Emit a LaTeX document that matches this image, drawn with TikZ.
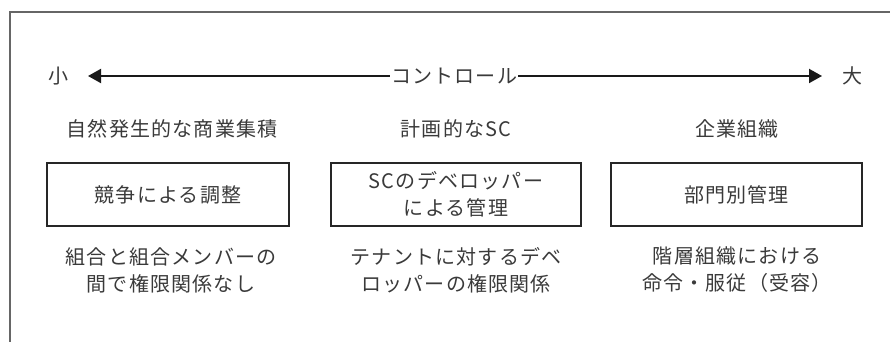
\documentclass[tikz,border=0pt]{standalone}
\usepackage{fontspec}
\setmainfont{Noto Sans CJK JP}[LetterSpace=6]
\usetikzlibrary{arrows.meta}
\definecolor{txt}{HTML}{3A3A3A}
\definecolor{frame}{HTML}{666666}
\tikzset{
  lbl/.style={text=txt, font=\fontsize{20}{27}\selectfont, inner sep=0pt, align=center},
  boxnode/.style={draw=black!85, line width=1.2pt, minimum height=63pt, text=txt,
     font=\fontsize{20}{27}\selectfont, align=center, inner sep=0pt},
  axis/.style={draw=black!90, line width=2pt, -{Triangle[length=13pt,width=14pt]}}
}
\begin{document}
\begin{tikzpicture}[x=1pt,y=-1pt]
\useasboundingbox (0,0) rectangle (890,342);
\draw[frame, line width=1.1pt] (890,12) -- (10,12) -- (10,342);
\node[lbl] (small) at (58,76) {小};
\node[lbl] (large) at (852,76) {大};
\node[lbl, inner xsep=1pt] (ctrl) at (454,76) {コントロール};
\coordinate (ltip) at (88,76);
\coordinate (rtip) at (822,76);
\draw[axis] (ctrl.west) -- (ltip);
\draw[axis] (ctrl.east) -- (rtip);
\node[lbl] (h1) at (172,129) {自然発生的な商業集積};
\node[lbl] (h2) at (456,129) {計画的なSC};
\node[lbl] (h3) at (737,129) {企業組織};
\node[boxnode, minimum width=242pt] (b1) at (168,194.5) {競争による調整};
\node[boxnode, minimum width=250pt] (b2) at (456,194.5) {SCのデベロッパー\\による管理};
\node[boxnode, minimum width=251pt] (b3) at (736.5,194.5) {部門別管理};
\node[lbl] (d1) at (171,270) {組合と組合メンバーの\\間で権限関係なし};
\node[lbl] (d2) at (456,270) {テナントに対するデベ\\ロッパーの権限関係};
\node[lbl] (d3) at (737,270) {階層組織における\\命令・服従（受容）};
\end{tikzpicture}
\end{document}
